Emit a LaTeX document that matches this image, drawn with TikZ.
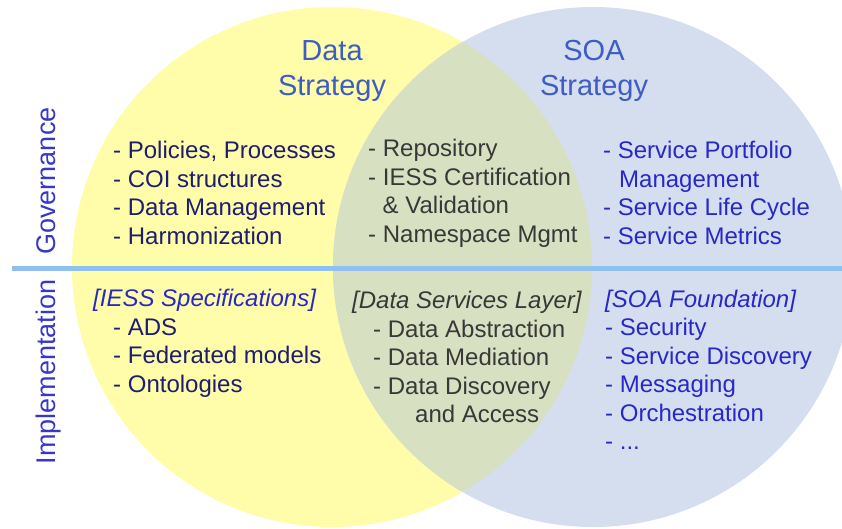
\documentclass[tikz,border=0pt]{standalone}
\usepackage{fontspec}
\setmainfont{Liberation Sans}

\definecolor{datafill}{HTML}{FFFDAA}
\definecolor{soafill}{HTML}{D4DEEF}
\definecolor{bothfill}{HTML}{D8E0C2}
\definecolor{divblue}{HTML}{8EC0F0}
\definecolor{titleblue}{HTML}{3D5CC4}
\definecolor{sideblue}{HTML}{3838C8}
\definecolor{datanavy}{HTML}{1E1E6E}
\definecolor{soablue}{HTML}{2828C8}
\definecolor{bothgray}{HTML}{383838}

\begin{document}
\begin{tikzpicture}[x=1pt,y=-1pt]
    \newcommand{\circrad}{260pt} % radius of both circles
    \newcommand{\datax}{332}
    \newcommand{\soax}{593}
    \newcommand{\midy}{267}
    \newcommand{\divy}{268} % height of the divider

    % set the styles of the texts
    \tikzset{
        title/.style={anchor=north, align=center, text=titleblue,
            font=\fontsize{29}{35}\selectfont},
        side/.style={rotate=90, anchor=base, text=sideblue,
            font=\fontsize{27}{32}\selectfont},
        block/.style={anchor=north west, align=left, inner sep=0pt,
            font=\fontsize{24}{28.5}\selectfont},
        divider/.style={line width=5pt, draw=divblue}
    }

    \useasboundingbox (0,0) rectangle (842,528);

    % the two strategies
    \fill[datafill] (\datax,\midy) circle (\circrad);
    \fill[soafill] (\soax,\midy) circle (\circrad);
    \begin{scope}
        \clip (\datax,\midy) circle (\circrad);
        \fill[bothfill] (\soax,\midy) circle (\circrad);
    \end{scope}

    % divider between governance and implementation
    \coordinate (divL) at (12,\divy);
    \coordinate (divR) at (842,\divy);
    \draw[divider] (divL) -- (divR);

    % titles
    \node[title] (datatitle) at (\datax,37) {Data\\Strategy};
    \node[title] (soatitle) at (\soax+1,37) {SOA\\Strategy};

    % rows
    \node[side] (govlabel) at (55,181) {Governance};
    \node[side] (implabel) at (55,372) {Implementation};

    % governance
    \node[block, text=datanavy] (govdata) at (113,141.4)
        {- Policies, Processes\\- COI structures\\- Data Management\\- Harmonization};
    \node[block, text=bothgray] (govboth) at (368,139.4)
        {- Repository\\- IESS Certification\\\hspace*{14.5pt}\& Validation\\- Namespace Mgmt};
    \node[block, text=soablue] (govsoa) at (603,141.4)
        {- Service Portfolio\\\hspace*{16pt}Management\\- Service Life Cycle\\- Service Metrics};

    % implementation
    \node[block, text=datanavy] (impdata) at (93,289.4)
        {\textcolor{soablue}{\itshape [IESS Specifications]}\\\hspace*{20pt}- ADS\\
         \hspace*{20pt}- Federated models\\\hspace*{20pt}- Ontologies};
    \node[block, text=bothgray] (impboth) at (352,291)
        {\itshape [Data Services Layer]\\\hspace*{21pt}- Data Abstraction\\
         \hspace*{21pt}- Data Mediation\\\hspace*{21pt}- Data Discovery\\
         \hspace*{63pt}and Access};
    \node[block, text=soablue] (impsoa) at (605,289.4)
        {\itshape [SOA Foundation]\\- Security\\- Service Discovery\\- Messaging\\
         - Orchestration\\- ...};

\end{tikzpicture}
\end{document}
